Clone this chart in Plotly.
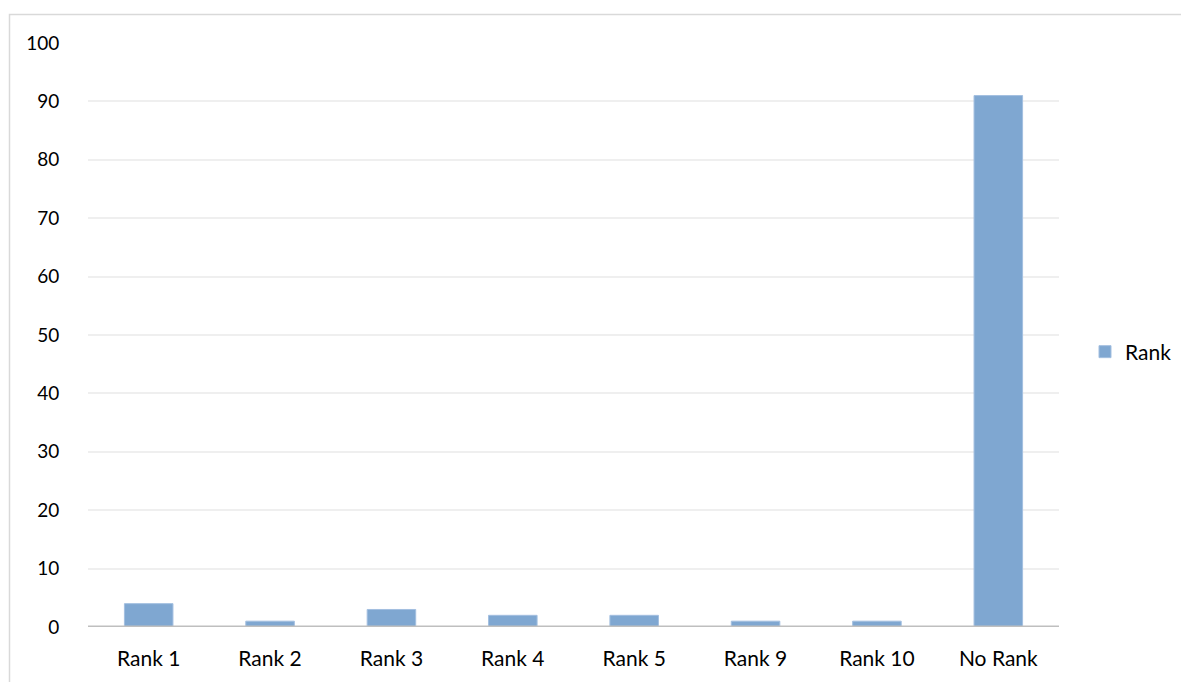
import plotly.graph_objects as go

categories = ["Rank 1", "Rank 2", "Rank 3", "Rank 4", "Rank 5", "Rank 9", "Rank 10", "No Rank"]
values = [4, 1, 3, 2, 2, 1, 1, 91]
series_name = "Rank"
y_ticks = [0, 10, 20, 30, 40, 50, 60, 70, 80, 90, 100]

FONT = "Lato"
W, H = 1181, 682
L, R, T, B = 88, 122, 43, 55
pw = W - L - R
ph = H - T - B

fig = go.Figure()
fig.add_trace(go.Bar(
    x=categories, y=values, name=series_name,
    marker=dict(color="#7FA7D1", line=dict(color="#A3BFE0", width=1)),
    width=0.4, showlegend=True,
))

fig.update_layout(
    width=W, height=H,
    margin=dict(l=L, r=R, t=T, b=B, autoexpand=False),
    paper_bgcolor="white", plot_bgcolor="white",
    font=dict(family=FONT, size=21, color="#000000"),
    showlegend=True,
    legend=dict(
        x=(1085 - L) / pw, y=(H - B - 352) / ph, xanchor="left", yanchor="middle",
        font=dict(family=FONT, size=21, color="#000000"),
        bgcolor="rgba(0,0,0,0)", itemwidth=30,
    ),
    bargap=0.6,
    xaxis=dict(
        showgrid=False, showline=False, zeroline=False,
        ticks="outside", ticklen=13, tickcolor="rgba(0,0,0,0)",
        tickfont=dict(family=FONT, size=21, color="#000000"),
    ),
    yaxis=dict(
        range=[0, 100], tickvals=y_ticks,
        showgrid=True, gridcolor="#EFEFEF", gridwidth=1.5,
        zeroline=False, showline=False,
        ticks="outside", ticklen=24, tickcolor="rgba(0,0,0,0)",
        tickfont=dict(family=FONT, size=19, color="#000000"),
    ),
    shapes=[
        dict(type="line", xref="paper", yref="y", x0=0, x1=1, y0=0, y1=0,
             line=dict(color="#BFBFBF", width=3), layer="above"),
        dict(type="rect", xref="paper", yref="paper",
             x0=(9.5 - L) / pw, x1=(W + 20 - L) / pw,
             y0=(H - B - (H + 20)) / ph, y1=(H - B - 14.5) / ph,
             line=dict(color="#D9D9D9", width=1.5), fillcolor="rgba(0,0,0,0)", layer="below"),
    ],
)

fig.write_html("out.html")
